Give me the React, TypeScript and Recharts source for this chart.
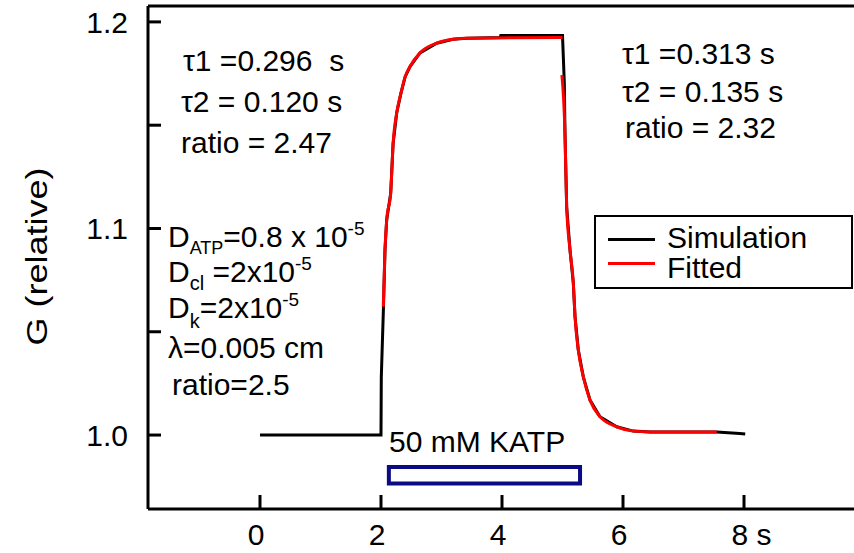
import { Line, LineChart, ReferenceArea, ReferenceLine, XAxis, YAxis } from "recharts";

// simulated conductance trace (black)
const simTime = [
  0, 2.0, 2.005, 2.04, 2.066, 2.094, 2.16, 2.2, 2.26, 2.33, 2.4, 2.48, 2.645, 2.92, 3.19, 3.42,
  3.97, 3.98, 5.0, 5.03, 5.041, 5.069, 5.124, 5.179, 5.207, 5.261, 5.344, 5.455, 5.62, 5.896,
  6.17, 6.45, 7.55, 7.93, 8.02,
];
const simG = [
  1.0, 1.0, 1.028, 1.061, 1.0896, 1.1041, 1.117, 1.141, 1.156, 1.1655, 1.1735, 1.1784, 1.185,
  1.1897, 1.1916, 1.1921, 1.1924, 1.1934, 1.1934, 1.1705, 1.1462, 1.1104, 1.0896, 1.0735, 1.0573,
  1.0412, 1.0282, 1.0169, 1.0089, 1.004, 1.0019, 1.0015, 1.0015, 1.0008, 1.0005,
];

// fitted curves (red), rise and decay fitted separately
const riseTime = [
  2.038, 2.066, 2.094, 2.16, 2.2, 2.26, 2.33, 2.4, 2.48, 2.645, 2.92, 3.19, 3.42, 4.2, 5.0,
];
const riseG = [
  1.0621, 1.0896, 1.1041, 1.117, 1.141, 1.156, 1.1655, 1.1735, 1.1784, 1.185, 1.1897, 1.1916,
  1.1921, 1.1923, 1.1924,
];
const decayTime = [
  4.99, 5.041, 5.069, 5.124, 5.179, 5.207, 5.261, 5.344, 5.455, 5.62, 5.896, 6.17, 6.45, 7.55,
];
const decayG = [
  1.1743, 1.1462, 1.1104, 1.0896, 1.0735, 1.0573, 1.0412, 1.0282, 1.0169, 1.0089, 1.004, 1.0019,
  1.0015, 1.0015,
];

const xTicks = [0, 2, 4, 6, 8];
const yTicks = [1.0, 1.05, 1.1, 1.15, 1.2];
const yLabelled = [1.0, 1.1, 1.2];
const seriesNames = ["Simulation", "Fitted"];
const seriesColors = ["#000000", "#ff0000"];

// 50 mM KATP application bar
const barStart = 2.13;
const barEnd = 5.29;
const barLow = 0.9765;
const barHigh = 0.9845;

const X_MIN = -1.851;
const X_MAX = 9.818;
const Y_MIN = 0.9642;
const Y_MAX = 1.2077;

const FONT = "'Liberation Sans', Arial, sans-serif";

const zip = (t: number[], g: number[]) => t.map((v, i) => ({ t: v, g: g[i] }));
const simData = zip(simTime, simG);
const riseData = zip(riseTime, riseG);
const decayData = zip(decayTime, decayG);

function XTick({ x, y, payload }: any) {
  const v = payload.value;
  return (
    <g>
      <line x1={x} x2={x} y1={y} y2={y - 14} stroke="#000" strokeWidth={3} />
      {v === 8 ? (
        <text x={x - 12.5} y={y + 36} textAnchor="start" fontSize={30} fontFamily={FONT} fill="#000">
          8 s
        </text>
      ) : (
        <text x={x - 4} y={y + 36} textAnchor="middle" fontSize={30} fontFamily={FONT} fill="#000">
          {v}
        </text>
      )}
    </g>
  );
}

function YTick({ x, y, payload }: any) {
  const v = payload.value;
  const show = yLabelled.some((l) => Math.abs(l - v) < 1e-6);
  return (
    <g>
      <line x1={x} x2={x + 13} y1={y} y2={y} stroke="#000" strokeWidth={3} />
      {show && (
        <text x={x - 20} y={y + 11} textAnchor="end" fontSize={30} fontFamily={FONT} fill="#000">
          {v.toFixed(1)}
        </text>
      )}
    </g>
  );
}

const txt = { fontSize: 30, fontFamily: FONT, fill: "#000" } as const;

export default function App() {
  return (
    <div style={{ position: "relative", width: 854, height: 553, background: "#fff" }}>
      <style>{"body{margin:0}"}</style>
      <LineChart width={854} height={553} margin={{ top: 6, right: 0, bottom: 0, left: 0 }}>
        <XAxis
          dataKey="t"
          type="number"
          domain={[X_MIN, X_MAX]}
          ticks={xTicks}
          allowDataOverflow
          height={44}
          tickSize={0}
          tickMargin={0}
          tickLine={false}
          tick={<XTick />}
          axisLine={{ stroke: "#000", strokeWidth: 3 }}
        />
        <YAxis
          type="number"
          domain={[Y_MIN, Y_MAX]}
          ticks={yTicks}
          allowDataOverflow
          width={148}
          tickSize={0}
          tickMargin={0}
          tickLine={false}
          tick={<YTick />}
          axisLine={{ stroke: "#000", strokeWidth: 3 }}
        />
        <ReferenceLine y={Y_MAX} stroke="#000" strokeWidth={3} />
        <ReferenceArea
          x1={barStart}
          x2={barEnd}
          y1={barLow}
          y2={barHigh}
          fill="none"
          fillOpacity={0}
          stroke="#0a0a84"
          strokeWidth={4}
          strokeOpacity={1}
        />
        <Line
          data={simData}
          dataKey="g"
          name={seriesNames[0]}
          type="linear"
          stroke={seriesColors[0]}
          strokeWidth={3}
          dot={false}
          isAnimationActive={false}
        />
        <Line
          data={riseData}
          dataKey="g"
          name={seriesNames[1]}
          type="monotone"
          stroke={seriesColors[1]}
          strokeWidth={3}
          dot={false}
          isAnimationActive={false}
        />
        <Line
          data={decayData}
          dataKey="g"
          name={seriesNames[1]}
          type="monotone"
          stroke={seriesColors[1]}
          strokeWidth={3}
          dot={false}
          isAnimationActive={false}
        />
      </LineChart>
      <svg
        width={854}
        height={553}
        style={{ position: "absolute", left: 0, top: 0, pointerEvents: "none" }}
      >
        <text
          {...txt}
          textAnchor="middle"
          transform="translate(36.5,256.5) rotate(-90) scale(1.2,1)"
          x={0}
          y={10.5}
        >
          G (relative)
        </text>

        <text {...txt} x={183} y={71} style={{ whiteSpace: "pre" }}>
          τ1 =0.296  s
        </text>
        <text {...txt} x={181} y={112}>τ2 = 0.120 s</text>
        <text {...txt} x={181} y={153}>ratio = 2.47</text>

        <text {...txt} x={622} y={64}>τ1 =0.313 s</text>
        <text {...txt} x={622} y={102}>τ2 = 0.135 s</text>
        <text {...txt} x={625} y={138}>ratio = 2.32</text>

        <text {...txt} x={168} y={247}>
          D<tspan fontSize={18} dy={6.5}>ATP</tspan>
          <tspan dy={-6.5}>=0.8 x 10</tspan>
          <tspan fontSize={19} dy={-12}>-5</tspan>
        </text>
        <text {...txt} x={168} y={282} style={{ whiteSpace: "pre" }}>
          D<tspan fontSize={20} dy={8}>cl</tspan>
          <tspan dy={-8}> =2x10</tspan>
          <tspan fontSize={19} dy={-12}>-5</tspan>
        </text>
        <text {...txt} x={168} y={318}>
          D<tspan fontSize={20} dy={10}>k</tspan>
          <tspan dy={-10}>=2x10</tspan>
          <tspan fontSize={19} dy={-12}>-5</tspan>
        </text>
        <text {...txt} x={168} y={358}>λ=0.005 cm</text>
        <text {...txt} x={172} y={395}>ratio=2.5</text>

        <text {...txt} x={389} y={452}>50 mM KATP</text>

        <rect x={595} y={216} width={257} height={72} fill="#fff" stroke="#000" strokeWidth={2} />
        {seriesNames.map((name, i) => (
          <g key={name}>
            <line
              x1={608}
              x2={655}
              y1={239.5 + i * 24}
              y2={239.5 + i * 24}
              stroke={seriesColors[i]}
              strokeWidth={3}
            />
            <text {...txt} x={667} y={248 + i * 30}>
              {name}
            </text>
          </g>
        ))}
      </svg>
    </div>
  );
}
